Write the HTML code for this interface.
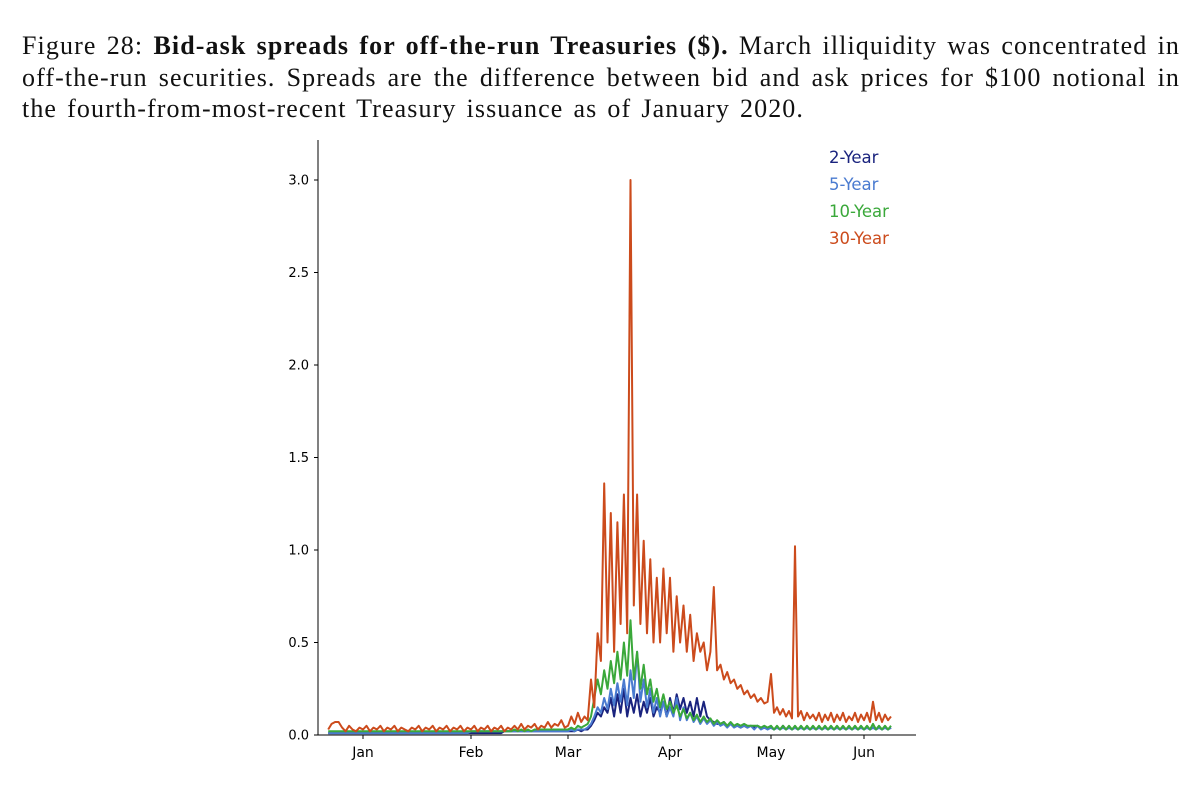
<!DOCTYPE html>
<html><head><meta charset="utf-8"><style>
body{margin:0;background:#fff;width:1200px;height:788px;overflow:hidden;position:relative}
#cap{position:absolute;left:22px;top:30px;font-family:"Liberation Serif",serif;font-size:26px;letter-spacing:1.1px;line-height:31.5px;color:#111}
#cap div{text-align:justify;text-align-last:justify;white-space:nowrap}
svg{position:absolute;left:0;top:0}
</style></head><body>
<div id="cap">
<div style="width:1158px">Figure 28: <b>Bid-ask spreads for off-the-run Treasuries ($).</b> March illiquidity was concentrated in</div>
<div style="width:1158px">off-the-run securities. Spreads are the difference between bid and ask prices for $100 notional in</div>
<div style="width:782px">the fourth-from-most-recent Treasury issuance as of January 2020.</div>
</div>
<svg id="chart" width="1200" height="788" font-family="DejaVu Sans, sans-serif"></svg>
<script>
const startDay=-10;
const monthLabels=["Jan","Feb","Mar","Apr","May","Jun"];
const monthDays=[0,31,60,91,121,152];
const yTicks=[0,0.5,1.0,1.5,2.0,2.5,3.0];
const seriesNames=["2-Year","5-Year","10-Year","30-Year"];
const seriesColors=["#1a237e","#4a7bd0","#3aa83a","#cc4b1c"];
const y30=[0.03,0.06,0.07,0.07,0.04,0.02,0.05,0.03,0.02,0.04,
0.03,0.05,0.02,0.04,0.03,0.05,0.02,0.04,0.03,0.05,0.02,0.04,0.03,0.02,0.04,0.03,0.05,0.02,0.04,0.03,0.05,0.02,0.04,0.03,0.05,0.02,0.04,0.03,0.05,0.02,0.04,
0.03,0.05,0.02,0.04,0.03,0.05,0.02,0.04,0.03,0.05,0.02,0.04,0.03,0.05,0.03,0.06,0.03,0.05,0.04,0.06,0.03,0.05,0.04,0.07,0.04,0.06,0.05,0.08,0.04,
0.05,0.1,0.06,0.12,0.07,0.1,0.08,0.3,0.15,0.55,0.4,1.36,0.5,1.2,0.45,1.15,0.6,1.3,0.55,3.0,0.7,1.3,0.6,1.05,0.55,0.95,0.5,0.85,0.5,0.9,0.55,
0.85,0.45,0.75,0.5,0.7,0.45,0.65,0.4,0.55,0.45,0.5,0.35,0.45,0.8,0.35,0.38,0.3,0.34,0.28,0.3,0.25,0.27,0.22,0.24,0.2,0.22,0.18,0.2,0.17,0.18,
0.33,0.12,0.15,0.11,0.14,0.1,0.13,0.09,1.02,0.1,0.13,0.08,0.12,0.09,0.11,0.08,0.12,0.07,0.11,0.08,0.12,0.07,0.11,0.08,0.12,0.07,0.1,0.08,0.12,0.07,0.11,
0.08,0.12,0.07,0.18,0.08,0.12,0.07,0.11,0.08,0.1];
const y10=[0.02,0.02,0.02,0.02,0.02,0.02,0.02,0.02,0.02,0.02,
0.02,0.02,0.02,0.02,0.02,0.02,0.02,0.02,0.02,0.02,0.02,0.02,0.02,0.02,0.02,0.02,0.02,0.02,0.02,0.02,0.02,0.02,0.02,0.02,0.02,0.02,0.02,0.02,0.02,0.02,0.02,
0.02,0.02,0.02,0.02,0.02,0.02,0.02,0.02,0.02,0.02,0.02,0.02,0.02,0.03,0.02,0.03,0.02,0.03,0.02,0.03,0.03,0.03,0.03,0.03,0.03,0.03,0.03,0.03,0.03,
0.03,0.04,0.03,0.05,0.04,0.05,0.06,0.1,0.2,0.3,0.22,0.35,0.25,0.4,0.28,0.45,0.3,0.5,0.32,0.62,0.3,0.45,0.25,0.38,0.22,0.3,0.18,0.25,0.15,0.22,0.14,
0.18,0.12,0.16,0.1,0.14,0.09,0.12,0.08,0.11,0.07,0.1,0.07,0.09,0.06,0.08,0.06,0.07,0.05,0.07,0.05,0.06,0.05,0.06,0.05,0.05,0.05,0.05,0.04,0.05,0.04,
0.05,0.03,0.05,0.03,0.05,0.03,0.05,0.03,0.05,0.03,0.05,0.03,0.05,0.03,0.05,0.03,0.05,0.03,0.05,0.03,0.05,0.03,0.05,0.03,0.05,0.03,0.05,0.03,0.05,0.03,0.05,
0.03,0.05,0.03,0.06,0.03,0.05,0.03,0.05,0.03,0.05];
const y5=[0.01,0.01,0.01,0.01,0.01,0.01,0.01,0.01,0.01,0.01,
0.01,0.01,0.01,0.01,0.01,0.01,0.01,0.01,0.01,0.01,0.01,0.01,0.01,0.01,0.01,0.01,0.01,0.01,0.01,0.01,0.01,0.01,0.01,0.01,0.01,0.01,0.01,0.01,0.01,0.01,0.01,
0.02,0.02,0.02,0.02,0.02,0.02,0.02,0.02,0.02,0.02,0.02,0.02,0.02,0.02,0.02,0.02,0.02,0.02,0.02,0.02,0.02,0.02,0.02,0.02,0.02,0.02,0.02,0.02,0.02,
0.02,0.03,0.02,0.03,0.03,0.03,0.04,0.06,0.1,0.15,0.12,0.2,0.14,0.25,0.16,0.28,0.18,0.3,0.16,0.35,0.2,0.45,0.18,0.3,0.15,0.25,0.12,0.2,0.1,0.18,0.1,
0.15,0.1,0.2,0.08,0.15,0.08,0.12,0.07,0.1,0.06,0.09,0.06,0.08,0.05,0.07,0.05,0.06,0.04,0.06,0.04,0.05,0.04,0.05,0.04,0.05,0.03,0.05,0.03,0.04,0.03,
0.04,0.03,0.04,0.03,0.04,0.03,0.04,0.03,0.04,0.03,0.04,0.03,0.04,0.03,0.04,0.03,0.04,0.03,0.04,0.03,0.04,0.03,0.04,0.03,0.04,0.03,0.04,0.03,0.04,0.03,0.04,
0.03,0.04,0.03,0.04,0.03,0.04,0.03,0.04,0.03,0.04];
const y2=[0.01,0.01,0.01,0.01,0.01,0.01,0.01,0.01,0.01,0.01,
0.01,0.01,0.01,0.01,0.01,0.01,0.01,0.01,0.01,0.01,0.01,0.01,0.01,0.01,0.01,0.01,0.01,0.01,0.01,0.01,0.01,0.01,0.01,0.01,0.01,0.01,0.01,0.01,0.01,0.01,0.01,
0.01,0.01,0.01,0.01,0.01,0.01,0.01,0.01,0.01,0.01,0.02,0.02,0.02,0.02,0.02,0.02,0.02,0.02,0.02,0.02,0.02,0.02,0.02,0.02,0.02,0.02,0.02,0.02,0.02,
0.02,0.02,0.02,0.03,0.02,0.03,0.03,0.05,0.08,0.12,0.1,0.15,0.12,0.2,0.1,0.22,0.12,0.25,0.1,0.2,0.12,0.22,0.1,0.18,0.12,0.2,0.1,0.15,0.12,0.18,0.1,
0.2,0.12,0.22,0.14,0.2,0.12,0.18,0.1,0.2,0.1,0.18,0.1,0.08,0.07,0.06,0.06,0.07,0.05,0.06,0.05,0.05,0.04,0.05,0.04,0.05,0.04,0.05,0.04,0.04,0.04,
0.04,0.03,0.04,0.03,0.05,0.03,0.04,0.03,0.04,0.03,0.04,0.03,0.04,0.03,0.04,0.03,0.04,0.03,0.04,0.03,0.04,0.03,0.04,0.03,0.04,0.03,0.04,0.03,0.04,0.03,0.04,
0.03,0.04,0.03,0.04,0.03,0.04,0.03,0.04,0.03,0.04];
const allSeries=[y2,y5,y10,y30];

const NS="http://www.w3.org/2000/svg";
const svg=document.getElementById('chart');
// axis calibration: pixel position of each month start
const axisPx=[363,471,568,670,771,864];
function X(d){
  let i=0;
  while(i<monthDays.length-2&&d>monthDays[i+1])i++;
  if(d<monthDays[0])i=0;
  const d0=monthDays[i],d1=monthDays[i+1];
  return axisPx[i]+(d-d0)*(axisPx[i+1]-axisPx[i])/(d1-d0);
}
const Y=v=>735-v*185;
function mk(tag,at,parent){const e=document.createElementNS(NS,tag);for(const k in at)e.setAttribute(k,at[k]);(parent||svg).appendChild(e);return e;}
let ax=mk('line',{x1:318,y1:140,x2:318,y2:735,stroke:'#000','stroke-width':1});


ax=mk('line',{x1:318,y1:735,x2:916,y2:735,stroke:'#000','stroke-width':1});


yTicks.forEach(v=>{
  const t=mk('line',{x1:314,x2:318,y1:Y(v),y2:Y(v),stroke:'#000'});
  
  
  const l=mk('text',{x:309,y:Y(v)+4.5,'text-anchor':'end','font-size':13,fill:'#000'});
  l.textContent=v.toFixed(1);
  
  
});
monthLabels.forEach((m,i)=>{
  const x=X(monthDays[i]);
  const t=mk('line',{x1:x,x2:x,y1:735,y2:739,stroke:'#000'});
  
  
  const l=mk('text',{x:x,y:757,'text-anchor':'middle','font-size':14,fill:'#000'});
  l.textContent=m;
  
  
});
allSeries.forEach((s,si)=>{
  const pts=s.map((v,i)=>X(startDay+i).toFixed(1)+','+Y(v).toFixed(1)).join(' ');
  const p=mk('polyline',{points:pts,fill:'none',stroke:seriesColors[si],'stroke-width':2,'stroke-linejoin':'round'});
  
  
});
seriesNames.forEach((n,i)=>{
  const l=mk('text',{x:829,y:163+i*27,'font-size':16.5,fill:seriesColors[i]});
  l.textContent=n;
  
  
});
</script>
</body></html>
